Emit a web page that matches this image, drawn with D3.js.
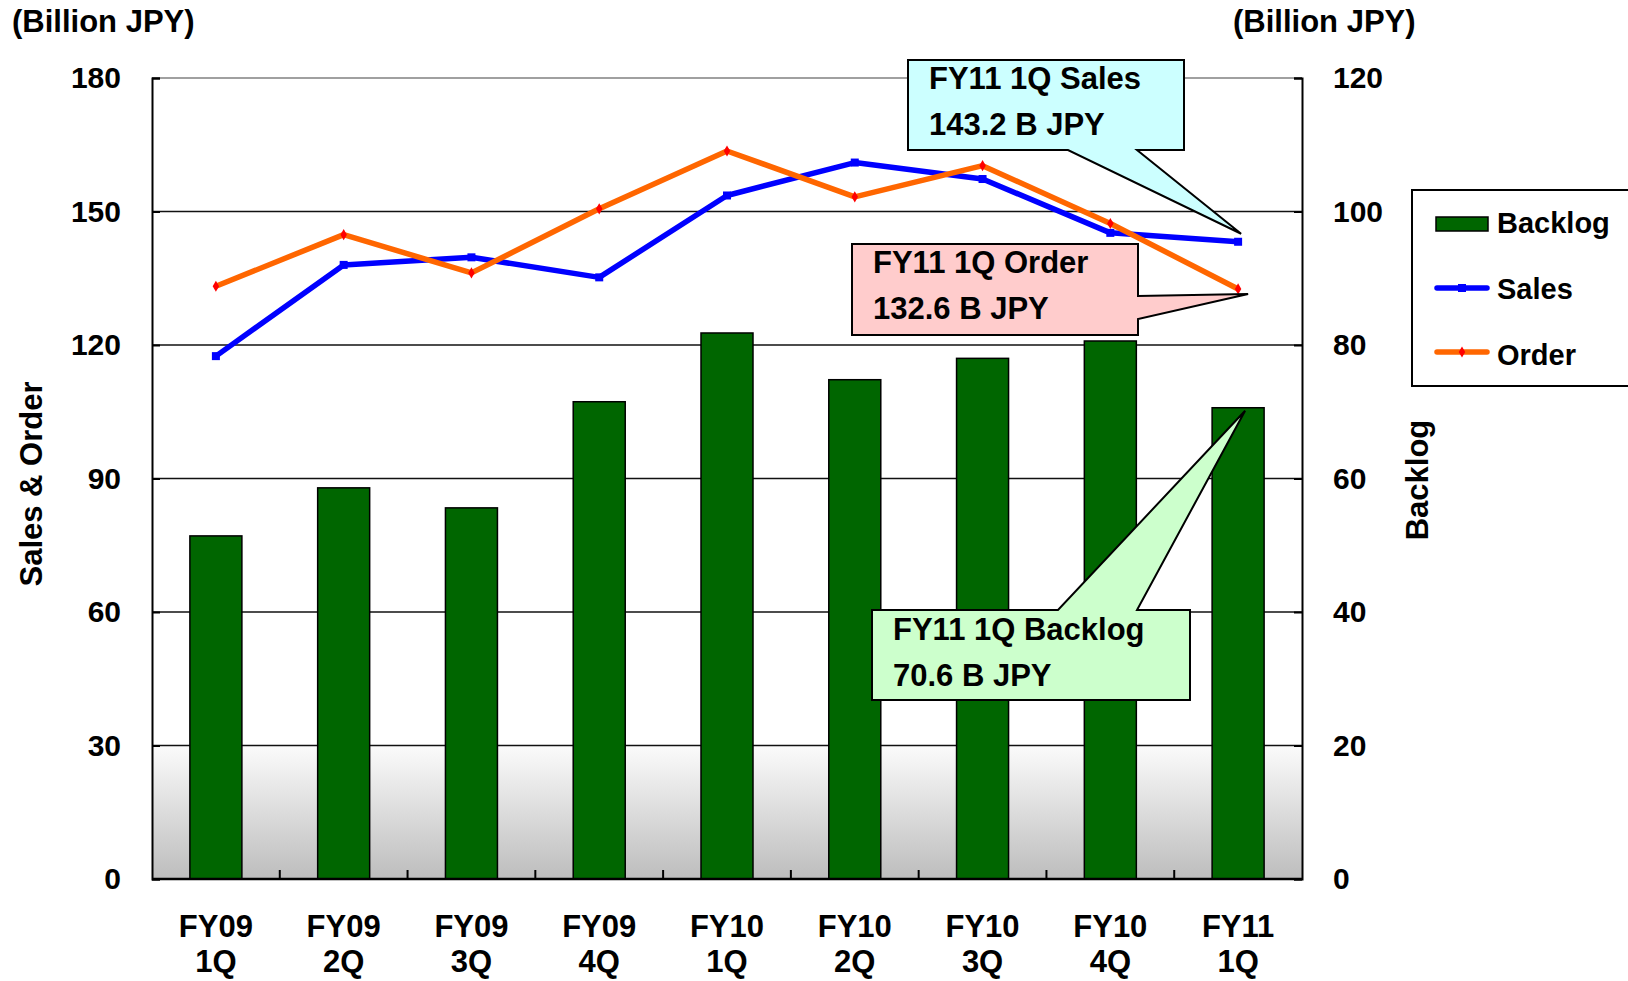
<!DOCTYPE html>
<html>
<head>
<meta charset="utf-8">
<script src="https://cdn.jsdelivr.net/npm/d3@7"></script>
<style>
  body { margin: 0; background: #fff; }
  svg { display: block; }
  text { font-family: "Liberation Sans", Arial, sans-serif; font-weight: bold; fill: #000; }
</style>
</head>
<body>
<svg id="chart" width="1628" height="981"></svg>
<script>
// Data
const quarters = ['FY09 1Q', 'FY09 2Q', 'FY09 3Q', 'FY09 4Q', 'FY10 1Q', 'FY10 2Q', 'FY10 3Q', 'FY10 4Q', 'FY11 1Q'];
const backlog = [51.4, 58.6, 55.6, 71.5, 81.8, 74.8, 78.0, 80.6, 70.6];
const sales = [117.5, 138.0, 139.7, 135.2, 153.6, 161.0, 157.3, 145.2, 143.2];
const orders = [133.2, 144.8, 136.2, 150.6, 163.6, 153.3, 160.3, 147.3, 132.6];
const leftTicks = [0, 30, 60, 90, 120, 150, 180];
const rightTicks = [0, 20, 40, 60, 80, 100, 120];
const legendItems = ['Backlog', 'Sales', 'Order'];

const svg = d3.select('#chart');
const plot = { left: 152, right: 1302, top: 78, bottom: 879 };

const x = d3.scaleBand().domain(quarters).range([plot.left, plot.right]).padding(0);
const yL = d3.scaleLinear().domain([0, 180]).range([plot.bottom, plot.top]);
const yR = d3.scaleLinear().domain([0, 120]).range([plot.bottom, plot.top]);
const cx = q => x(q) + x.bandwidth() / 2;
const barW = 52;

const defs = svg.append('defs');
const grad = defs.append('linearGradient')
  .attr('id', 'floor').attr('x1', 0).attr('y1', 0).attr('x2', 0).attr('y2', 1);
grad.append('stop').attr('offset', '0%').attr('stop-color', '#fbfbfb');
grad.append('stop').attr('offset', '100%').attr('stop-color', '#bdbdbd');

// grey floor between 0 and 30
svg.append('rect')
  .attr('x', plot.left).attr('y', yL(30))
  .attr('width', plot.right - plot.left).attr('height', yL(0) - yL(30))
  .attr('fill', 'url(#floor)');

// gridlines (top one is grey)
svg.append('g').selectAll('line')
  .data(leftTicks.filter(d => d > 0))
  .join('line')
  .attr('x1', plot.left).attr('x2', plot.right)
  .attr('y1', d => yL(d)).attr('y2', d => yL(d))
  .attr('stroke', d => d === 180 ? '#a0a0a0' : '#111')
  .attr('stroke-width', d => d === 180 ? 2 : 1.5);

// backlog bars
svg.append('g').selectAll('rect')
  .data(quarters)
  .join('rect')
  .attr('x', q => cx(q) - barW / 2)
  .attr('y', (q, i) => yR(backlog[i]))
  .attr('width', barW)
  .attr('height', (q, i) => yR(0) - yR(backlog[i]))
  .attr('fill', '#006600')
  .attr('stroke', '#000')
  .attr('stroke-width', 1.5);

// axes
const leftAxis = svg.append('g')
  .attr('transform', `translate(${plot.left},0)`)
  .call(d3.axisLeft(yL).tickValues(leftTicks).tickSize(-8).tickPadding(31));
const rightAxis = svg.append('g')
  .attr('transform', `translate(${plot.right},0)`)
  .call(d3.axisRight(yR).tickValues(rightTicks).tickSize(-8).tickPadding(31));
[leftAxis, rightAxis].forEach(a => {
  a.select('.domain').attr('stroke', '#000').attr('stroke-width', 2);
  a.selectAll('.tick line').attr('stroke', '#000').attr('stroke-width', 2);
  a.selectAll('.tick text')
    .attr('font-size', 30).attr('font-family', null).attr('fill', '#000');
});

// bottom axis line and category boundary ticks
svg.append('line')
  .attr('x1', plot.left).attr('x2', plot.right)
  .attr('y1', plot.bottom).attr('y2', plot.bottom)
  .attr('stroke', '#000').attr('stroke-width', 2.5);
svg.append('g').selectAll('line')
  .data(quarters.slice(1))
  .join('line')
  .attr('x1', q => x(q)).attr('x2', q => x(q))
  .attr('y1', plot.bottom).attr('y2', plot.bottom - 9)
  .attr('stroke', '#000').attr('stroke-width', 2);

// category labels on two lines
const xl = svg.append('g').selectAll('text')
  .data(quarters)
  .join('text')
  .attr('text-anchor', 'middle')
  .attr('font-size', 31);
xl.append('tspan').attr('x', cx).attr('y', 937).text(q => q.split(' ')[0]);
xl.append('tspan').attr('x', cx).attr('y', 972).text(q => q.split(' ')[1]);

// lines
const line = vals => d3.line()
  .x((d, i) => cx(quarters[i]))
  .y(d => yL(d))(vals);

svg.append('path').attr('d', line(sales))
  .attr('fill', 'none').attr('stroke', '#0000ff').attr('stroke-width', 5.5)
  .attr('stroke-linejoin', 'round');
svg.append('g').selectAll('rect')
  .data(sales)
  .join('rect')
  .attr('x', (d, i) => cx(quarters[i]) - 4)
  .attr('y', d => yL(d) - 4)
  .attr('width', 8).attr('height', 8)
  .attr('fill', '#0000ff');

svg.append('path').attr('d', line(orders))
  .attr('fill', 'none').attr('stroke', '#ff6600').attr('stroke-width', 5.5)
  .attr('stroke-linejoin', 'round');
svg.append('g').selectAll('path')
  .data(orders)
  .join('path')
  .attr('d', d3.symbol(d3.symbolDiamond, 36))
  .attr('transform', (d, i) => `translate(${cx(quarters[i])},${yL(d)})`)
  .attr('fill', '#ff0000');

// axis titles
svg.append('text').attr('x', 12).attr('y', 32).attr('font-size', 31).text('(Billion JPY)');
svg.append('text').attr('x', 1233).attr('y', 32).attr('font-size', 31).text('(Billion JPY)');
svg.append('text')
  .attr('transform', 'translate(42,484) rotate(-90)')
  .attr('text-anchor', 'middle').attr('font-size', 31)
  .text('Sales & Order');
svg.append('text')
  .attr('transform', 'translate(1428,480) rotate(-90)')
  .attr('text-anchor', 'middle').attr('font-size', 31)
  .text('Backlog');

// legend
const lg = svg.append('g');
lg.append('rect')
  .attr('x', 1412).attr('y', 190).attr('width', 260).attr('height', 196)
  .attr('fill', '#fff').attr('stroke', '#000').attr('stroke-width', 2);
lg.append('rect')
  .attr('x', 1436).attr('y', 217).attr('width', 52).attr('height', 14)
  .attr('fill', '#006600').attr('stroke', '#000').attr('stroke-width', 1.5);
lg.append('line')
  .attr('x1', 1437).attr('x2', 1487).attr('y1', 288).attr('y2', 288)
  .attr('stroke', '#0000ff').attr('stroke-width', 5.5).attr('stroke-linecap', 'round');
lg.append('rect').attr('x', 1458).attr('y', 284).attr('width', 8).attr('height', 8).attr('fill', '#0000ff');
lg.append('line')
  .attr('x1', 1437).attr('x2', 1487).attr('y1', 352).attr('y2', 352)
  .attr('stroke', '#ff6600').attr('stroke-width', 5.5).attr('stroke-linecap', 'round');
lg.append('path').attr('d', d3.symbol(d3.symbolDiamond, 36))
  .attr('transform', 'translate(1462,352)').attr('fill', '#ff0000');
lg.selectAll('text.item')
  .data(legendItems)
  .join('text')
  .attr('class', 'item')
  .attr('x', 1497)
  .attr('y', (d, i) => 233 + i * 66)
  .attr('font-size', 29)
  .text(d => d);

// callouts
const last = quarters[quarters.length - 1];
const salesTip = [cx(last) + 3, yL(sales[8]) - 8];
const orderTip = [cx(last) + 10, yL(orders[8]) + 5];
const backlogTip = [cx(last) + 7, yR(backlog[8]) + 3];

function callout(pathD, fill, tx, ty, lines) {
  const g = svg.append('g');
  g.append('path').attr('d', pathD)
    .attr('fill', fill).attr('stroke', '#000').attr('stroke-width', 2)
    .attr('stroke-linejoin', 'miter');
  lines.forEach((t, i) => {
    g.append('text').attr('x', tx).attr('y', ty + i * 46).attr('font-size', 31).text(t);
  });
}

callout(`M908,60 H1184 V150 H1137 L${salesTip} L1068,150 H908 Z`,
  '#ccffff', 929, 89, ['FY11 1Q Sales', sales[8].toFixed(1) + ' B JPY']);
callout(`M852,244 H1138 V296 L${orderTip} L1138,319 V335 H852 Z`,
  '#ffcccc', 873, 273, ['FY11 1Q Order', orders[8].toFixed(1) + ' B JPY']);
callout(`M872,610 H1058 L${backlogTip} L1137,610 H1190 V700 H872 Z`,
  '#ccffcc', 893, 640, ['FY11 1Q Backlog', backlog[8].toFixed(1) + ' B JPY']);
</script>
</body>
</html>
